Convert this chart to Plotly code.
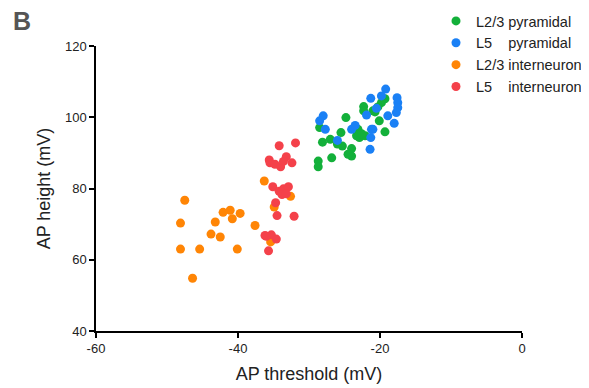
import plotly.graph_objects as go

# AP threshold (x, mV) and AP height (y, mV) per cell type
l23_pyr_x = [-28.7, -28.7, -26.8, -28.5, -28.1, -27.0, -25.5, -25.3, -24.8, -24.0, -24.0, -24.5,
             -23.1, -22.9, -23.3, -22.1, -22.3, -22.3, -21.0, -19.3, -19.8, -20.3, -20.7, -20.1,
             -19.3, -22.6, -26.0]
l23_pyr_y = [87.7, 86.1, 88.6, 97.1, 93.0, 93.8, 95.7, 91.9, 99.9, 91.2, 89.1, 89.6,
             96.6, 94.3, 94.8, 94.8, 103.0, 101.8, 101.8, 105.2, 104.1, 102.9, 101.5, 99.0,
             95.9, 95.4, 92.5]

l5_pyr_x = [-28.0, -28.5, -27.7, -26.0, -24.0, -23.5, -21.3, -21.9, -21.2, -21.3, -21.4, -19.2,
            -19.8, -17.6, -17.5, -17.5, -17.7, -18.9, -18.0, -21.0, -20.5]
l5_pyr_y = [100.4, 99.0, 96.6, 93.5, 96.6, 97.7, 105.3, 100.6, 96.6, 94.3, 91.0, 107.9,
            106.0, 105.5, 104.1, 102.7, 101.3, 100.4, 98.3, 96.6, 102.5]

l23_int_x = [-47.5, -48.1, -48.1, -45.4, -46.4, -43.8, -42.5, -43.2, -42.1, -41.1, -40.8, -39.7,
             -40.1, -37.6, -35.4, -34.9, -36.3, -32.6]
l23_int_y = [76.7, 70.3, 63.0, 63.0, 54.8, 67.2, 66.4, 70.6, 73.3, 73.9, 71.5, 73.0,
             63.0, 69.6, 65.0, 74.8, 82.1, 77.8]

l5_int_x = [-34.2, -31.9, -35.6, -35.5, -34.8, -34.0, -33.2, -33.6, -32.4, -35.1, -34.2, -33.6,
            -32.9, -33.8, -33.2, -34.7, -34.5, -32.1, -36.2, -35.3, -35.7, -34.6, -36.0]
l5_int_y = [92.0, 92.8, 88.0, 87.2, 86.8, 86.1, 88.9, 87.6, 87.2, 80.5, 79.2, 79.9,
            80.5, 78.3, 78.5, 76.0, 72.4, 72.2, 66.8, 67.0, 62.5, 65.8, 66.6]

series = [
    ("L2/3\u00a0pyramidal", l23_pyr_x, l23_pyr_y, "#13b03a"),
    ("L5\u00a0\u00a0\u00a0\u00a0pyramidal", l5_pyr_x, l5_pyr_y, "#1a80f5"),
    ("L2/3\u00a0interneuron", l23_int_x, l23_int_y, "#ff8505"),
    ("L5\u00a0\u00a0\u00a0\u00a0interneuron", l5_int_x, l5_int_y, "#f4414a"),
]

x_ticks = [-60, -40, -20, 0]
x_tick_labels = ["-60", "-40", "-20", "0"]
y_ticks = [40, 60, 80, 100, 120]
y_tick_labels = ["40", "60", "80", "100", "120"]

fig = go.Figure()
for i, (name, xs, ys, col) in enumerate(series):
    fig.add_trace(go.Scatter(x=xs, y=ys, mode="markers", name=name,
                             marker=dict(size=9, color=col, line=dict(width=0))))

fig.update_layout(
    width=581, height=380,
    margin=dict(l=88, r=67, t=38, b=57, autoexpand=False),
    plot_bgcolor="white", paper_bgcolor="white",
    font=dict(family="Liberation Sans, Arial", color="#222"),
    showlegend=True,
    legend=dict(x=(436 - 96) / 426, y=(331 - 5) / 285, xanchor="left", yanchor="top",
                font=dict(size=14.5, color="#222"), bgcolor="rgba(0,0,0,0)",
                itemwidth=30),
    xaxis=dict(range=[-60, 0], tickvals=x_ticks, ticktext=x_tick_labels, showgrid=False, zeroline=False,
               showline=True, linecolor="black", linewidth=1.5, ticks="outside",
               ticklen=5, tickwidth=1.5, tickcolor="black",
               tickfont=dict(size=13), title=dict(text="AP threshold (mV)", font=dict(size=18), standoff=12)),
    yaxis=dict(range=[40, 120], tickvals=y_ticks, ticktext=y_tick_labels, showgrid=False, zeroline=False,
               showline=True, linecolor="black", linewidth=1.5, ticks="outside",
               ticklen=5, tickwidth=1.5, tickcolor="black",
               tickfont=dict(size=13), title=dict(text="AP height (mV)", font=dict(size=18), standoff=10)),
    annotations=[dict(text="<b>B</b>", x=(11 - 96) / 426, y=(331 - 5) / 285, xref="paper", yref="paper",
                      showarrow=False, font=dict(size=25, color="#555"), xanchor="left", yanchor="top")],
)

fig.write_html("out.html")
